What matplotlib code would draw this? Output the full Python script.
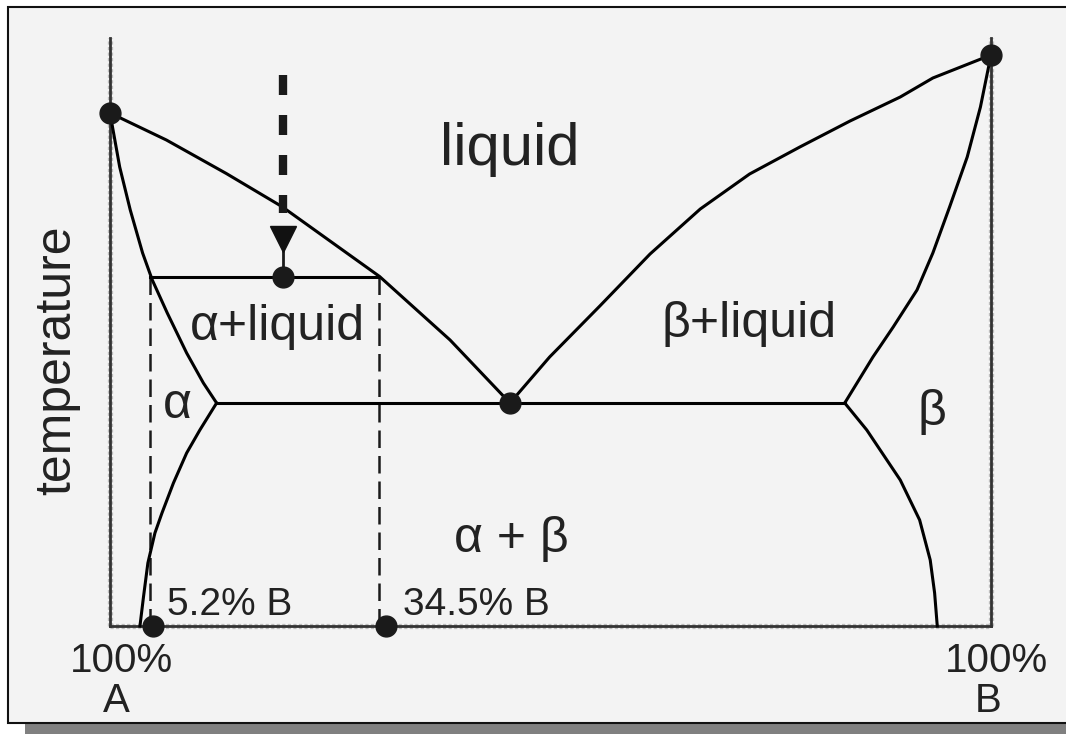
import matplotlib
matplotlib.use("Agg")
import matplotlib.pyplot as plt
from matplotlib.patches import Rectangle

plt.rcParams['font.family'] = ['Liberation Sans', 'DejaVu Sans']

# composition in % B, temperature in arbitrary units
liq_a_c = [0, 6.4, 13.2, 19.5, 30.6, 38.6, 45.4]
liq_a_t = [1026, 972, 905, 839, 699, 572, 446]
sol_a_c = [0, 1.1, 2.3, 3.7, 4.8, 6.5, 8.7, 10.6, 12.1]
sol_a_t = [1026, 918, 832, 746, 692, 626, 546, 486, 446]
svs_a_c = [12.1, 10.2, 8.7, 7.2, 5.9, 5.1, 4.3, 3.8, 3.4]
svs_a_t = [446, 392, 346, 286, 226, 186, 126, 58, 0]

liq_b_c = [45.4, 49.9, 55.6, 61.3, 67.0, 72.6, 78.3, 84.0, 89.7, 93.4, 100]
liq_b_t = [446, 538, 640, 744, 834, 904, 958, 1010, 1058, 1096, 1142]
sol_b_c = [100, 98.8, 97.3, 95.3, 93.4, 91.6, 88.9, 86.6, 83.4]
sol_b_t = [1142, 1038, 938, 838, 746, 672, 598, 538, 446]
svs_b_c = [83.4, 85.9, 89.7, 91.9, 93.1, 93.6, 93.9]
svs_b_t = [446, 392, 292, 212, 132, 66, 0]

melt_a = (0, 1026)
melt_b = (100, 1142)
eutectic = (45.4, 446)
t_eut = 446
c_alpha_max = 12.1
c_beta_max = 83.4

# cooling path of the alloy and tie line
c_alloy = 19.6
t_start, t_dash_end = 1102, 826
t_arrow = 774
t_tie = 698
c_tie_alpha = 4.5
c_tie_liq = 30.5
c_dot_alpha = 4.9
c_dot_liq = 31.3

labels_bottom = ["5.2% B", "34.5% B"]
label_pos = [(6.5, 22), (33.3, 22)]

fig = plt.figure(figsize=(10.66, 7.34), dpi=100)
fig.patch.set_facecolor('white')

# framed panel with shadow
fig.patches.append(Rectangle((25 / 1066, 0), 1.0, 11 / 734, transform=fig.transFigure,
                             facecolor='#808080', edgecolor='none', zorder=-3))
fig.patches.append(Rectangle((8 / 1066, 11 / 734), 1.02, 716 / 734, transform=fig.transFigure,
                             facecolor='#f3f3f3', edgecolor='#111111', linewidth=1.5, zorder=-2))

ax = fig.add_axes([110 / 1066, 108 / 734, 881 / 1066, 600 / 734])
ax.set_zorder(5)
ax.set_xlim(0, 100)
ax.set_ylim(0, 1200)
ax.axis('off')

# axes frame (dark line with light stipple)
frame = [([0, 0], [0, 1176]), ([100, 100], [0, 1176]), ([0, 100], [0, 0])]
for xs, ys in frame:
    ax.plot(xs, ys, color='#bdbdbd', lw=3.8, dashes=(0.6, 0.45), solid_capstyle='butt',
            zorder=2, clip_on=False)
    ax.plot(xs, ys, color='#333333', lw=2.0, zorder=3, clip_on=False)

curve_kw = dict(color='black', lw=2.2, zorder=4, solid_joinstyle='round', clip_on=False)
ax.plot(liq_a_c, liq_a_t, **curve_kw)
ax.plot(sol_a_c, sol_a_t, **curve_kw)
ax.plot(svs_a_c, svs_a_t, **curve_kw)
ax.plot(liq_b_c, liq_b_t, **curve_kw)
ax.plot(sol_b_c, sol_b_t, **curve_kw)
ax.plot(svs_b_c, svs_b_t, **curve_kw)
ax.plot([c_alpha_max, c_beta_max], [t_eut, t_eut], **curve_kw)
ax.plot([c_tie_alpha, c_tie_liq], [t_tie, t_tie], **curve_kw)

# lever rule verticals
for c in (c_tie_alpha, c_tie_liq):
    ax.plot([c, c], [t_tie, 0], color='#1a1a1a', lw=1.8, dashes=(7, 3.2), zorder=3)

# cooling arrow
ax.plot([c_alloy, c_alloy], [t_start, t_dash_end], color='#1a1a1a', lw=6,
        dashes=(2.4, 2.4), solid_capstyle='butt', dash_capstyle='butt', zorder=5)
ax.plot([c_alloy, c_alloy], [t_arrow, t_tie], color='#1a1a1a', lw=2, zorder=5)
ax.plot([c_alloy], [t_arrow], marker='v', ms=19, color='#111111', zorder=6)

# points
pts_c = [melt_a[0], melt_b[0], eutectic[0], c_alloy, c_dot_alpha, c_dot_liq]
pts_t = [melt_a[1], melt_b[1], eutectic[1], t_tie, 0, 0]
ax.plot(pts_c, pts_t, 'o', ms=15, color='#1a1a1a', zorder=7, clip_on=False)

txt = dict(color='#222222', clip_on=False)
ax.text(45.4, 922, "liquid", fontsize=43, ha='center', va='baseline', **txt)
ax.text(19.0, 572, "α+liquid", fontsize=36, ha='center', va='baseline', **txt)
ax.text(72.5, 578, "β+liquid", fontsize=36, ha='center', va='baseline', **txt)
ax.text(7.6, 416, "α", fontsize=36, ha='center', va='baseline', **txt)
ax.text(93.3, 402, "β", fontsize=36, ha='center', va='baseline', **txt)
ax.text(45.6, 148, "α + β", fontsize=36, ha='center', va='baseline', **txt)
for s, (x, y) in zip(labels_bottom, label_pos):
    ax.text(x, y, s, fontsize=28, ha='left', va='baseline', **txt)
ax.text(1.25, -92, "100%", fontsize=29, ha='center', va='baseline', **txt)
ax.text(0.7, -172, "A", fontsize=29, ha='center', va='baseline', **txt)
ax.text(100.6, -92, "100%", fontsize=29, ha='center', va='baseline', **txt)
ax.text(99.7, -172, "B", fontsize=29, ha='center', va='baseline', **txt)
ax.text(-6.0, 532, "temperature", fontsize=36, rotation=90, ha='center', va='center', **txt)

fig.savefig("out.png", dpi=100)
